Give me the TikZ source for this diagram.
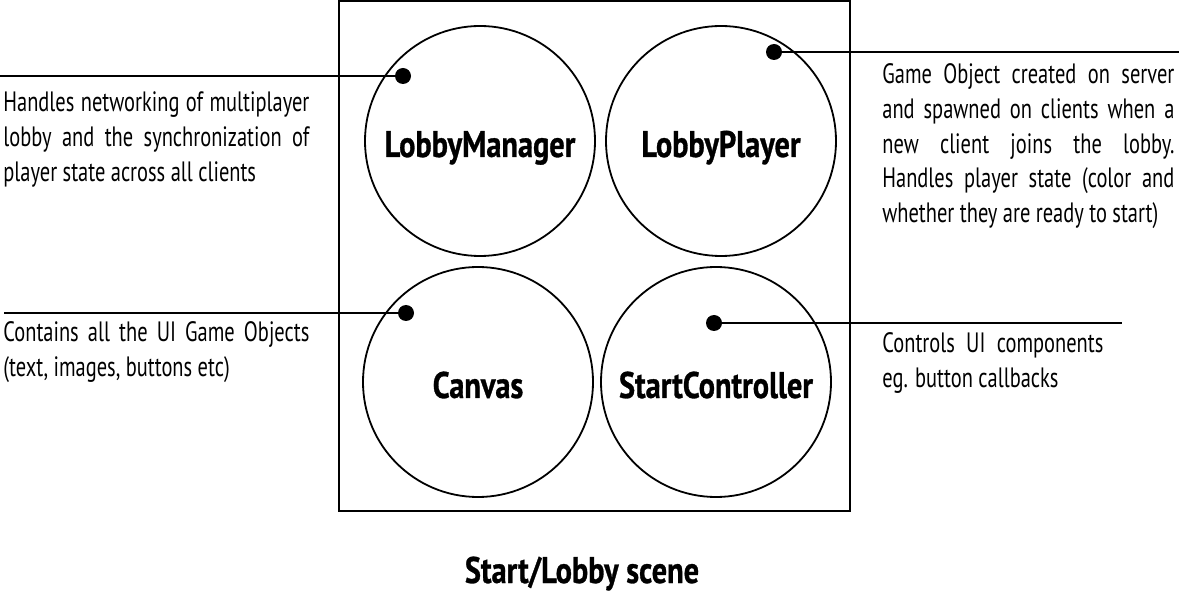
\documentclass[tikz,border=0pt]{standalone}
\usepackage{fontspec}
\setmainfont{PT Sans}[FakeStretch=0.73,BoldFeatures={FakeStretch=0.82,FakeBold=0.8}]
\usetikzlibrary{positioning}
\tikzset{main node/.style={circle,draw,line width=.9pt,minimum size=115pt,inner sep=0pt,text height=16pt,text depth=0pt,font=\bfseries\fontsize{18.5}{21}\selectfont},
dot node/.style={circle,fill=black,minimum size=8pt,inner sep=0pt},
note node/.style={anchor=base west,inner sep=0pt,align=justify,font=\fontsize{14}{17.3}\selectfont},}

\begin{document}
\begin{tikzpicture}[x=.5pt,y=-.5pt]
    \useasboundingbox (0,0) rectangle (1179,593);

    % scene box
    \draw[line width=1pt] (339,1) rectangle (850,511);

    \node[main node] (lm) at (480,141) {LobbyManager};
    \node[main node] (lp) at (721,141) {LobbyPlayer};
    \node[main node] (cv) at (478,382) {Canvas};
    \node[main node] (sc) at (716,382) {StartController};

    \node[dot node] (lmdot) at (403,76) {};
    \node[dot node] (lpdot) at (774,52) {};
    \node[dot node] (cvdot) at (406,313) {};
    \node[dot node] (scdot) at (714,323) {};

    \coordinate (lmend) at (0,76);
    \coordinate (lpend) at (1179,52);
    \coordinate (cvend) at (4,313);
    \coordinate (scend) at (1122,323);

    \path[draw,line width=1pt]
    (lmdot.center) edge node {} (lmend)
    (lpdot.center) edge node {} (lpend)
    (cvdot.center) edge node {} (cvend)
    (scdot.center) edge node {} (scend)
    ;

    \node[note node,text width=153pt] (lmnote) at (3,112) {Handles networking of multiplayer\linebreak lobby and the synchronization of\linebreak player state across all clients};
    \node[note node,text width=146pt] (lpnote) at (882,84) {Game Object created on server\linebreak and spawned on clients when a\linebreak new client joins the lobby.\linebreak Handles player state (color and\linebreak whether they are ready to start)};
    \node[note node,text width=153pt] (cvnote) at (3,342) {Contains all the UI Game Objects\linebreak (text, images, buttons etc)};
    \node[note node,text width=110.5pt] (scnote) at (882,353) {Controls UI components\linebreak eg. button callbacks};

    \node[anchor=base,font=\bfseries\fontsize{18.5}{22}\selectfont] (title) at (582,583) {Start/Lobby scene};
\end{tikzpicture}
\end{document}
